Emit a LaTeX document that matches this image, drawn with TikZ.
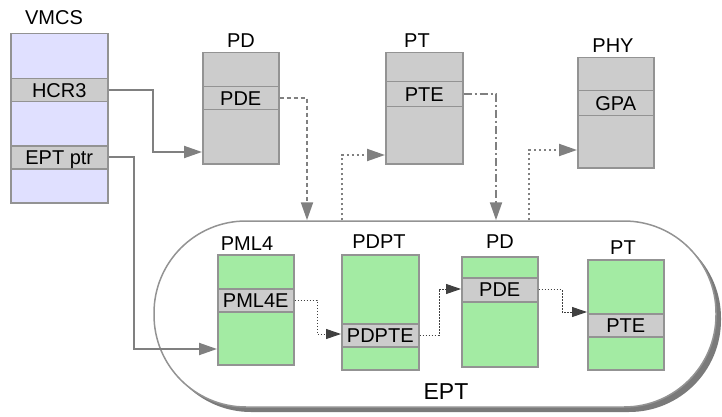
\documentclass[tikz,border=0pt]{standalone}
\usepackage{fontspec}
\setmainfont{Liberation Sans}
\usetikzlibrary{arrows.meta}
\definecolor{cellgray}{HTML}{CCCCCC}
\definecolor{edgegray}{HTML}{939393}
\definecolor{arrgray}{HTML}{808080}
\definecolor{boxgreen}{HTML}{A3EBA3}
\definecolor{lav}{HTML}{E0E0FF}
\definecolor{shadowgray}{HTML}{7A7A7A}
\definecolor{darkarr}{HTML}{404040}
\tikzset{
  box/.style={draw=edgegray, line width=1.5pt, anchor=north west, inner sep=0pt},
  graybox/.style={box, fill=cellgray},
  greenbox/.style={box, fill=boxgreen},
  lavbox/.style={box, fill=lav},
  cell/.style={box, fill=cellgray, font=\fontsize{20}{24}\selectfont, text height=14.3pt, text depth=0pt},
  lbl/.style={inner sep=0pt, font=\fontsize{20}{24}\selectfont, text height=14.3pt, text depth=0pt},
  garrow/.style={draw=arrgray, line width=2pt, -{Triangle[length=18pt, width=12pt, fill=arrgray]}},
  gdashed/.style={garrow, dash pattern=on 4pt off 3pt},
  gdashdot/.style={garrow, dash pattern=on 8pt off 3pt on 2pt off 3pt},
  gdotted/.style={garrow, dash pattern=on 2pt off 3pt},
  darrow/.style={draw=darkarr, line width=1pt, dash pattern=on 1.5pt off 1.5pt, -{Triangle[length=15pt, width=10pt, fill=darkarr]}},
}
\begin{document}
\begin{tikzpicture}[x=1pt, y=-1pt]
\useasboundingbox (0,0) rectangle (722,417);

% EPT container with shadow
\node[fill=shadowgray, rounded corners=92pt, minimum width=562pt, minimum height=186pt, inner sep=0pt] (eptshadow) at (440,319) {};
\node[draw=edgegray, fill=white, line width=1.5pt, rounded corners=92pt, minimum width=562pt, minimum height=186pt, inner sep=0pt] (ept) at (435,314) {};
\node[lbl, font=\fontsize{23}{27}\selectfont, text height=16.5pt] (eptlbl) at (446,391.5) {EPT};

% VMCS
\node[lavbox, minimum width=97pt, minimum height=169pt] (vmcs) at (10,33) {};
\node[cell, minimum width=97pt, minimum height=23pt] (hcr3) at (10,78) {HCR3};
\node[cell, minimum width=97pt, minimum height=23pt] (eptptr) at (10,145) {EPT ptr};
\node[lbl] (vmcslbl) at (54,17) {VMCS};

% Guest PD
\node[graybox, minimum width=76pt, minimum height=111pt] (pd) at (202,52) {};
\node[cell, minimum width=76pt, minimum height=23pt] (pde) at (202,86) {PDE};
\node[lbl] (pdlbl) at (241,40) {PD};

% Guest PT
\node[graybox, minimum width=77pt, minimum height=111pt] (pt) at (385,52) {};
\node[cell, minimum width=77pt, minimum height=25pt] (pte) at (385,81) {PTE};
\node[lbl] (ptlbl) at (417,40) {PT};

% PHY
\node[graybox, minimum width=76pt, minimum height=110pt] (phy) at (577,57) {};
\node[cell, minimum width=76pt, minimum height=25pt] (gpa) at (577,90) {GPA};
\node[lbl] (phylbl) at (613,45.5) {PHY};

% EPT tables
\node[greenbox, minimum width=76pt, minimum height=110pt] (pml4) at (217,254) {};
\node[cell, minimum width=76pt, minimum height=23pt] (pml4e) at (217,288) {PML4E};
\node[lbl] (pml4lbl) at (247,243) {PML4};

\node[greenbox, minimum width=77pt, minimum height=115pt] (pdpt) at (341,254) {};
\node[cell, minimum width=77pt, minimum height=23pt] (pdpte) at (341,323) {PDPTE};
\node[lbl] (pdptlbl) at (379,241) {PDPT};

\node[greenbox, minimum width=76pt, minimum height=110pt] (epd) at (461,256) {};
\node[cell, minimum width=76pt, minimum height=24pt] (epde) at (461,277) {PDE};
\node[lbl] (epdlbl) at (500,241.5) {PD};

\node[greenbox, minimum width=76pt, minimum height=110pt] (ept4) at (587,259) {};
\node[cell, minimum width=76pt, minimum height=23pt] (epte) at (587,313) {PTE};
\node[lbl] (ept4lbl) at (623,247) {PT};

% connectors
\draw[garrow] (hcr3.east) -| (153,152) -- (pd.west |- 0,152);
\draw[garrow] (eptptr.east) -| (134,349) -- (pml4.west |- 0,349);
\draw[gdashed] (pde.east) -| (ept.north -| 307,0);
\draw[gdashdot] (pte.east) -| (ept.north -| 496,0);
\draw[gdotted] (ept.north -| 342,0) |- (pt.west |- 0,155);
\draw[gdotted] (ept.north -| 529,0) |- (phy.west |- 0,150);

\draw[darrow] (pml4e.east) -| (317,334) -- (pdpt.west |- 0,334);
\draw[darrow] (pdpte.east) -| (439,289) -- (epd.west |- 0,289);
\draw[darrow] (epde.east) -| (562,312) -- (ept4.west |- 0,312);
\end{tikzpicture}
\end{document}
